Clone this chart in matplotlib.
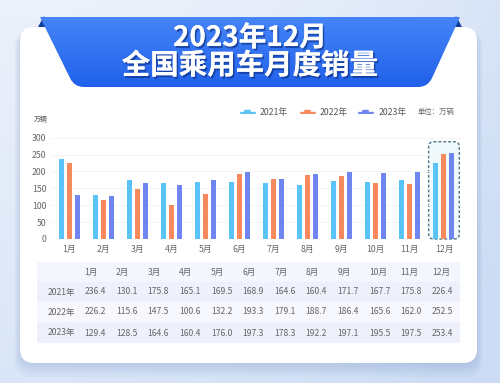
import matplotlib
matplotlib.use('Agg')
import matplotlib.pyplot as plt
import numpy as np
from matplotlib.patches import FancyBboxPatch, Polygon, PathPatch, Rectangle
from matplotlib.path import Path
import matplotlib.patheffects as pe

plt.rcParams['font.family'] = ['Noto Sans CJK SC', 'DejaVu Sans']

# ---------------- data ----------------
months = ['1月', '2月', '3月', '4月', '5月', '6月', '7月', '8月', '9月', '10月', '11月', '12月']
years = ['2021年', '2022年', '2023年']
sales_2021 = [236.4, 130.1, 175.8, 165.1, 169.5, 168.9, 164.6, 160.4, 171.7, 167.7, 175.8, 226.4]
sales_2022 = [226.2, 115.6, 147.5, 100.6, 132.2, 193.3, 179.1, 188.7, 186.4, 165.6, 162.0, 252.5]
sales_2023 = [129.4, 128.5, 164.6, 160.4, 176.0, 197.3, 178.3, 192.2, 197.1, 195.5, 197.5, 253.4]
yticks = [0, 50, 100, 150, 200, 250, 300]
title_line1 = '2023年12月'
title_line2 = '全国乘用车月度销量'
unit_label = '单位：万辆'
yaxis_unit = '万辆'
colors = ['#5ac4f8', '#f68a5e', '#6f86f0']
series = [sales_2021, sales_2022, sales_2023]

W, H = 500, 383
fig = plt.figure(figsize=(5, 3.83), dpi=100)

# ---------------- background layer (pixel coords) ----------------
bg = fig.add_axes([0, 0, 1, 1], zorder=0)
bg.set_xlim(0, W)
bg.set_ylim(H, 0)
bg.axis('off')

yy, xx = np.mgrid[0:1:100j, 0:1:100j]
c_top = np.array([0.925, 0.945, 0.980])
c_br = np.array([0.800, 0.865, 0.960])
t = np.clip(0.55 * yy + 0.6 * xx ** 2, 0, 1)[..., None]
img = c_top * (1 - t) + c_br * t
bg.imshow(img, extent=[0, W, H, 0], aspect='auto', zorder=0)

# card shadow
for i in range(8):
    g = i * 1.6
    sh = FancyBboxPatch((20 - g * 0.5, 29 + g * 0.3), 457 + g, 336 + g * 0.8,
                        boxstyle='round,pad=0,rounding_size=16',
                        fc='#6f8fbf', ec='none', alpha=0.035, zorder=1)
    bg.add_patch(sh)
card = FancyBboxPatch((20, 27), 457, 336, boxstyle='round,pad=0,rounding_size=14',
                      fc='white', ec='none', zorder=2)
bg.add_patch(card)

# banner
M, L, C3, CL = Path.MOVETO, Path.LINETO, Path.CURVE3, Path.CLOSEPOLY
verts = [(40, 17), (460, 17), (432, 78), (428, 87), (418, 87),
         (84, 87), (74, 87), (70, 78), (40, 17), (40, 17)]
codes = [M, L, L, C3, C3, L, C3, C3, L, CL]
banner = PathPatch(Path(verts, codes), fc='none', ec='none', zorder=3)
bg.add_patch(banner)
gy = np.linspace(0, 1, 100)[:, None, None]
b_top = np.array([0.27, 0.52, 0.97])
b_bot = np.array([0.13, 0.38, 0.92])
bimg = b_top * (1 - gy) + b_bot * gy
bimg = np.repeat(bimg, 4, axis=1)
im = bg.imshow(bimg, extent=[40, 460, 87, 17], aspect='auto', zorder=3)
im.set_clip_path(banner)
# folds
bg.add_patch(Polygon([(38, 27), (44, 16), (50, 27)], closed=True, fc='#123e9e', ec='none', zorder=2.5))
bg.add_patch(Polygon([(450, 27), (456, 16), (462, 27)], closed=True, fc='#123e9e', ec='none', zorder=2.5))

shadow = [pe.withSimplePatchShadow(offset=(1.2, -1.5), shadow_rgbFace='#0b2a7a', alpha=0.6), pe.Normal()]
bg.text(250, 38, title_line1, ha='center', va='center', fontsize=20, fontweight='bold',
        color='white', zorder=5, path_effects=shadow)
bg.text(250, 66, title_line2, ha='center', va='center', fontsize=20.5, fontweight='bold',
        color='white', zorder=5, path_effects=shadow)

# ---------------- chart axes ----------------
ax_left, ax_right = 52, 461
ax_top, ax_bot = 124.2, 239
ax = fig.add_axes([ax_left / W, (H - ax_bot) / H, (ax_right - ax_left) / W, (ax_bot - ax_top) / H], zorder=2)
ax.patch.set_alpha(0)
x = np.arange(len(months))
bw = 0.145
offs = [-0.235, 0, 0.235]
for s, c, o in zip(series, colors, offs):
    ax.bar(x + o, s, width=bw, color=c, zorder=3)
ax.set_xlim(-0.5, len(months) - 0.5)
ax.set_ylim(0, 340)
ax.set_yticks(yticks)
ax.set_yticklabels([str(v) for v in yticks], fontsize=6.3, color='#666666')
ax.set_xticks(x)
ax.set_xticklabels(months, fontsize=6.3, color='#666666')
ax.tick_params(length=0, axis='y', pad=4)
ax.tick_params(length=0, axis='x', pad=4)
for sp in ax.spines.values():
    sp.set_visible(False)
ax.yaxis.grid(True, color='#f3f3f3', lw=0.6, zorder=0)
ax.set_axisbelow(True)

# highlight box for last month (converted from data coords to pixel coords)
fig.canvas.draw()
p0 = ax.transData.transform((x[-1] - 0.45, 0))
p1 = ax.transData.transform((x[-1] + 0.45, 288))
bx0, bx1 = p0[0], p1[0]
by_top, by_bot = H - p1[1], H - p0[1]
hl = FancyBboxPatch((bx0, by_top), bx1 - bx0, by_bot - by_top,
                    boxstyle='round,pad=0,rounding_size=5',
                    fc='#f0fafd', ec='#4d7384', lw=1.0, ls=(0, (2, 1.5)), zorder=4)
bg.add_patch(hl)

# ---------------- overlay: legend, unit, table ----------------
ov = fig.add_axes([0, 0, 1, 1], zorder=3)
ov.set_xlim(0, W)
ov.set_ylim(H, 0)
ov.axis('off')

ov.text(41, 120, yaxis_unit, ha='center', va='center', fontsize=5, color='#555555')

leg_icon_x = [240, 300, 358]
leg_text_x = [260, 320, 379]
leg_y = 112
for ix, tx, c, yl in zip(leg_icon_x, leg_text_x, colors, years):
    ov.add_patch(FancyBboxPatch((ix, leg_y - 0.2), 16, 2.2, boxstyle='round,pad=0,rounding_size=1.1',
                                fc=c, ec='none'))
    ov.add_patch(FancyBboxPatch((ix + 4, leg_y - 2.2), 7, 2.4, boxstyle='round,pad=0,rounding_size=1.2',
                                fc=c, ec='none'))
    ov.text(tx, leg_y, yl, ha='left', va='center', fontsize=6.3, color='#555555')
ov.text(418, leg_y, unit_label, ha='left', va='center', fontsize=5.3, color='#666666')

# table
tb_x0, tb_x1 = 37, 460
row_y = [272, 292, 312, 333]
row_edges = [262, 282, 302, 322, 343]
row_fc = ['#f4f6fd', '#eef1fb', '#f7f8fe', '#eef1fb']
for k in range(4):
    ov.add_patch(Rectangle((tb_x0, row_edges[k]), tb_x1 - tb_x0, row_edges[k + 1] - row_edges[k],
                           fc=row_fc[k], ec='none', zorder=0))
col_x0, col_dx = 84.5, 31.6
for j, m in enumerate(months):
    ov.text(col_x0 + col_dx * j, row_y[0], m, ha='left', va='center', fontsize=6.2, color='#666666')
for k, (yl, s) in enumerate(zip(years, series)):
    ov.text(48, row_y[k + 1], yl, ha='left', va='center', fontsize=6.2, color='#666666')
    for j, v in enumerate(s):
        ov.text(col_x0 + col_dx * j, row_y[k + 1], f'{v:.1f}', ha='left', va='center',
                fontsize=6.2, color='#666666')

fig.savefig('out.png', dpi=100)
